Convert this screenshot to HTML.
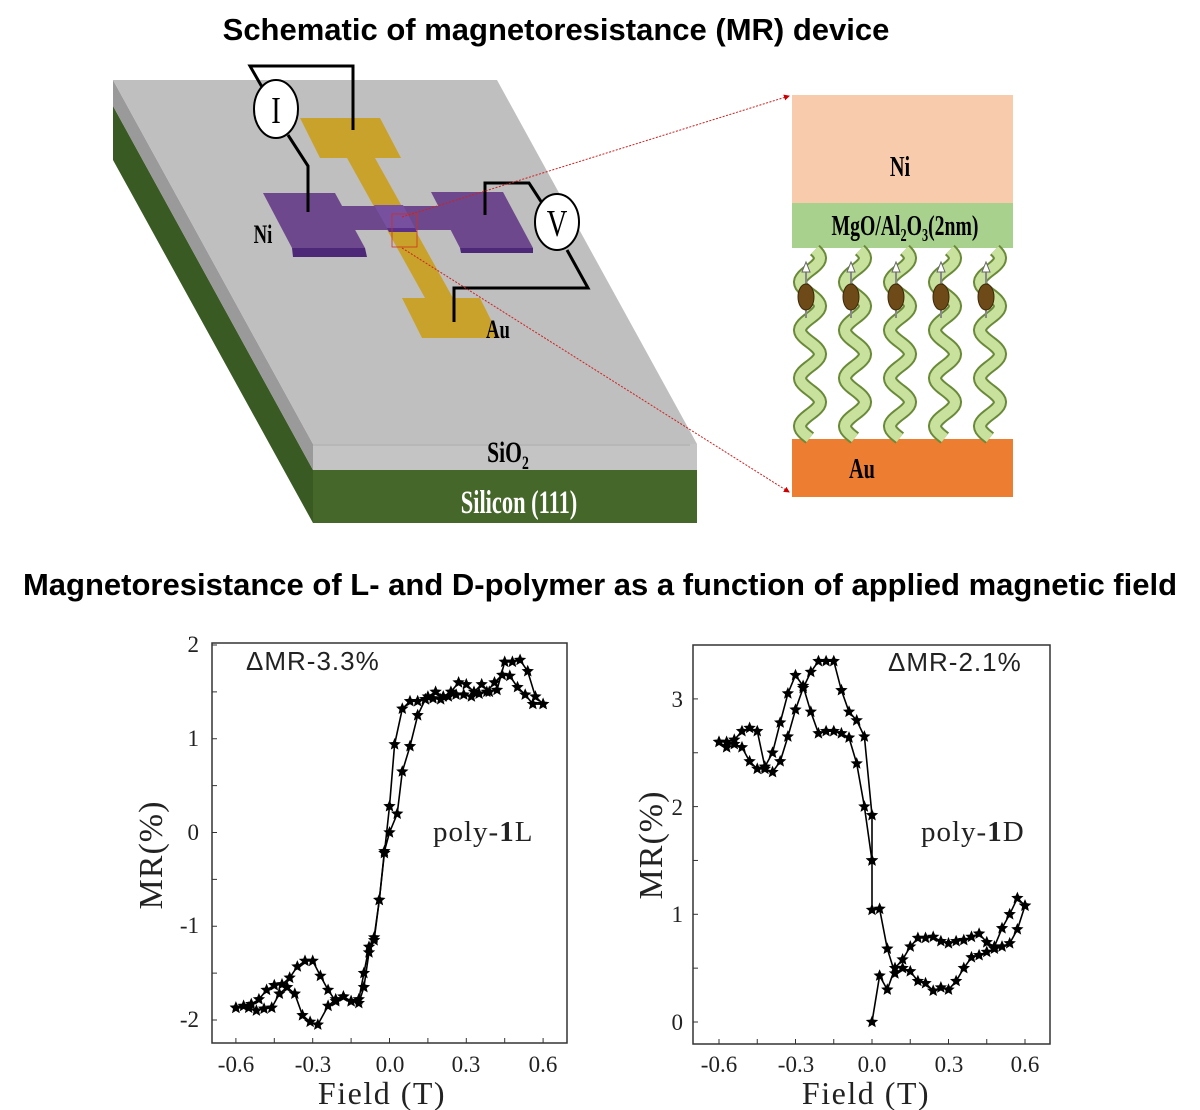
<!DOCTYPE html>
<html><head><meta charset="utf-8"><style>
html,body{margin:0;padding:0;background:#fff;}
body{width:1200px;height:1110px;position:relative;overflow:hidden;font-family:"Liberation Sans",sans-serif;}
svg{position:absolute;left:0;top:0;}
</style></head><body>
<svg id="s" width="1200" height="1110" viewBox="0 0 1200 1110" xmlns="http://www.w3.org/2000/svg">
<defs>
<marker id="ar" markerWidth="6" markerHeight="6" refX="5" refY="3" orient="auto"><path d="M0,0 L6,3 L0,6z" fill="#c00"/></marker>
</defs>
<text x="556" y="40" text-anchor="middle" font-family="Liberation Sans" font-weight="bold" font-size="31">Schematic of magnetoresistance (MR) device</text>
<text x="600" y="595" text-anchor="middle" font-family="Liberation Sans" font-weight="bold" font-size="31">Magnetoresistance of L- and D-polymer as a function of applied magnetic field</text>

<!-- slab -->
<polygon points="113,106 313,470 313,523 113,160" fill="#3a5a24"/>
<polygon points="113,80 313,444 313,470 113,106" fill="#9a9a9a"/>
<polygon points="313,444 697,444 697,470 313,470" fill="#c4c4c4"/>
<line x1="313" y1="445" x2="690" y2="445" stroke="#aaa" stroke-width="1"/>
<polygon points="313,470 697,470 697,523 313,523" fill="#46672a"/>
<polygon points="113,80 497,80 697,444 313,444" fill="#bfbfbf"/>

<!-- gold -->
<polygon points="300,118 380,118 401,158 320,158" fill="#c9a22c"/>
<polygon points="347,158 375,158 453,298 425,298" fill="#c9a22c"/>
<polygon points="402,298 480,298 500,338 422,338" fill="#c9a22c"/>
<!-- purple -->
<polygon points="292,248 365,248 367,257 293,257" fill="#4e2878"/>
<polygon points="263,193 335,193 365,248 292,248" fill="#6e488c"/>
<polygon points="330,206 440,206 452,230 342,230" fill="#6e488c"/>
<polygon points="460,248 533,248 533,253 461,253" fill="#4e2878"/>
<polygon points="431,192 503,192 533,248 460,248" fill="#6e488c"/>
<polygon points="374,205 403,205 415,228 387,228" fill="#7850a0"/>
<polygon points="387,228 415,228 417,232 389,232" fill="#5a3088"/>

<!-- wires -->
<g stroke="#000" stroke-width="3" fill="none">
<polyline points="262,87 250,66 353,66 353,130"/>
<polyline points="288,135 308,166 308,212"/>
<polyline points="485,215 485,183 529,183 542,203"/>
<polyline points="567,250 588,288 454,288 454,322"/>
</g>
<ellipse cx="276" cy="109" rx="22" ry="29" fill="#fff" stroke="#000" stroke-width="2"/>
<text x="276" y="123" text-anchor="middle" font-family="Liberation Serif" font-size="38" transform="translate(276 0) scale(0.75 1) translate(-276 0)">I</text>
<ellipse cx="557" cy="222" rx="22" ry="28" fill="#fff" stroke="#000" stroke-width="2"/>
<text x="557" y="236" text-anchor="middle" font-family="Liberation Serif" font-size="38" transform="translate(557 0) scale(0.75 1) translate(-557 0)">V</text>

<g font-family="Liberation Serif" font-weight="bold">
<text x="263" y="243" text-anchor="middle" font-size="26" transform="translate(263 0) scale(0.72 1) translate(-263 0)">Ni</text>
<text x="498" y="338" text-anchor="middle" font-size="26" transform="translate(498 0) scale(0.72 1) translate(-498 0)">Au</text>
<text x="508" y="462" text-anchor="middle" font-size="30" transform="translate(508 0) scale(0.72 1) translate(-508 0)">SiO<tspan font-size="19" dy="7">2</tspan></text>
<text x="519" y="513" text-anchor="middle" font-size="33" fill="#fff" transform="translate(519 0) scale(0.68 1) translate(-519 0)">Silicon (111)</text>
</g>

<!-- zoom lines -->
<rect x="392" y="214" width="25" height="33" fill="none" stroke="#d03020" stroke-width="0.8"/>
<line x1="402" y1="217" x2="789" y2="96" stroke="#d02020" stroke-width="1" stroke-dasharray="2,1.5" marker-end="url(#ar)"/>
<line x1="402" y1="248" x2="789" y2="492" stroke="#d02020" stroke-width="1" stroke-dasharray="2,1.5" marker-end="url(#ar)"/>

<!-- stack -->
<rect x="792" y="95" width="221" height="108" fill="#f8cbad"/>
<rect x="792" y="203" width="221" height="45" fill="#a9d18e"/>
<rect x="792" y="439" width="221" height="58" fill="#ed7d31"/>
<g font-family="Liberation Serif" font-weight="bold">
<text x="900" y="176" text-anchor="middle" font-size="29" transform="translate(900 0) scale(0.7 1) translate(-900 0)">Ni</text>
<text x="905" y="235" text-anchor="middle" font-size="29" transform="translate(905 0) scale(0.68 1) translate(-905 0)">MgO/Al<tspan font-size="18" dy="6">2</tspan><tspan dy="-6">O</tspan><tspan font-size="18" dy="6">3</tspan><tspan dy="-6">(2nm)</tspan></text>
<text x="862" y="478" text-anchor="middle" font-size="29" transform="translate(862 0) scale(0.7 1) translate(-862 0)">Au</text>
</g>
<g id="helix"></g>
<g id="plots"></g>

<!-- plot 1 frame -->
<rect x="212" y="643" width="355" height="400" fill="none" stroke="#333" stroke-width="1.5"/>
<g font-family="Liberation Serif" font-size="23" fill="#222">
<text x="199" y="652" text-anchor="end">2</text>
<text x="199" y="746" text-anchor="end">1</text>
<text x="199" y="840" text-anchor="end">0</text>
<text x="199" y="933" text-anchor="end">-1</text>
<text x="199" y="1027" text-anchor="end">-2</text>
<text x="236" y="1072" text-anchor="middle">-0.6</text>
<text x="313" y="1072" text-anchor="middle">-0.3</text>
<text x="390" y="1072" text-anchor="middle">0.0</text>
<text x="466" y="1072" text-anchor="middle">0.3</text>
<text x="543" y="1072" text-anchor="middle">0.6</text>
<text x="382" y="1104" text-anchor="middle" font-size="32" letter-spacing="1.5">Field (T)</text>
<text transform="translate(162 855) rotate(-90)" text-anchor="middle" font-size="34" letter-spacing="1">MR(%)</text>
<text x="246" y="670" font-family="Liberation Sans" font-size="26" letter-spacing="1">ΔMR-3.3%</text>
<text x="433" y="841" font-size="29" letter-spacing="1">poly-<tspan font-weight="bold">1</tspan>L</text>
</g>
<!-- plot 2 frame -->
<rect x="693" y="645" width="357" height="399" fill="none" stroke="#333" stroke-width="1.5"/>
<g font-family="Liberation Serif" font-size="23" fill="#222">
<text x="683" y="707" text-anchor="end">3</text>
<text x="683" y="815" text-anchor="end">2</text>
<text x="683" y="922" text-anchor="end">1</text>
<text x="683" y="1030" text-anchor="end">0</text>
<text x="719" y="1072" text-anchor="middle">-0.6</text>
<text x="796" y="1072" text-anchor="middle">-0.3</text>
<text x="872" y="1072" text-anchor="middle">0.0</text>
<text x="949" y="1072" text-anchor="middle">0.3</text>
<text x="1025" y="1072" text-anchor="middle">0.6</text>
<text x="866" y="1104" text-anchor="middle" font-size="32" letter-spacing="1.5">Field (T)</text>
<text transform="translate(662 845) rotate(-90)" text-anchor="middle" font-size="34" letter-spacing="1">MR(%)</text>
<text x="888" y="671" font-family="Liberation Sans" font-size="26" letter-spacing="1">ΔMR-2.1%</text>
<text x="921" y="841" font-size="29" letter-spacing="1">poly-<tspan font-weight="bold">1</tspan>D</text>
</g>
</svg>
<script>
var NS="http://www.w3.org/2000/svg";
function el(p,t,a){var e=document.createElementNS(NS,t);for(var k in a)e.setAttribute(k,a[k]);p.appendChild(e);return e;}
var h=document.getElementById('helix');
[810,855,900,945,990].forEach(function(cx){
  var d="";for(var y=250;y<=439;y+=2){var x=cx+10*Math.sin((y-250)/48*2*Math.PI+0.5);d+=(y==250?"M":"L")+x.toFixed(1)+","+y;}
  el(h,'path',{d:d,stroke:'#6a8a3a',"stroke-width":14,fill:'none'});
  el(h,'path',{d:d,stroke:'#c8e29e',"stroke-width":10,fill:'none'});
  el(h,'line',{x1:cx-4,y1:268,x2:cx-4,y2:318,stroke:'#888',"stroke-width":2});
  el(h,'path',{d:"M"+(cx-8)+",272 L"+(cx-4)+",262 L"+cx+",272z",fill:'#fff',stroke:'#666'});
  el(h,'ellipse',{cx:cx-4,cy:297,rx:8,ry:13,fill:'#6e4a18',stroke:'#3e2a08'});
});
var P=document.getElementById('plots');
function star(g,x,y,r){var d="";for(var i=0;i<10;i++){var a=-Math.PI/2+i*Math.PI/5,rr=i%2?r*0.45:r;d+=(i?"L":"M")+(x+rr*Math.cos(a)).toFixed(1)+","+(y+rr*Math.sin(a)).toFixed(1);}el(g,'path',{d:d+"z",fill:'#000'});}
function curve(pts,fx,fy){var d="";pts.forEach(function(p,i){d+=(i?"L":"M")+fx(p[0]).toFixed(1)+","+fy(p[1]).toFixed(1);});el(P,'path',{d:d,stroke:'#000',"stroke-width":1.6,fill:'none'});pts.forEach(function(p){star(P,fx(p[0]),fy(p[1]),6.5);});}
function ticks(x0,x1,y0,y1,fx,fy,xs,ys){xs.forEach(function(v){el(P,'line',{x1:fx(v),x2:fx(v),y1:y1,y2:y1-5,stroke:'#333'});});ys.forEach(function(v){el(P,'line',{x1:x0,x2:x0+5,y1:fy(v),y2:fy(v),stroke:'#333'});});}
var fx1=function(f){return 389.5+256*f},fy1=function(v){return 832.5-93.75*v};
var fx2=function(f){return 872+255*f},fy2=function(v){return 1022-107.7*v};
var xt=[-0.6,-0.45,-0.3,-0.15,0,0.15,0.3,0.45,0.6];
ticks(212,567,643,1043,fx1,fy1,xt,[2,1.5,1,0.5,0,-0.5,-1,-1.5,-2]);
ticks(693,1050,645,1044,fx2,fy2,xt,[3,2.5,2,1.5,1,0.5,0]);
curve([[-0.6,-1.87],[-0.57,-1.85],[-0.54,-1.83],[-0.51,-1.78],[-0.48,-1.68],[-0.45,-1.63],[-0.42,-1.62],[-0.39,-1.55],[-0.36,-1.43],[-0.33,-1.37],[-0.3,-1.37],[-0.27,-1.53],[-0.24,-1.68],[-0.21,-1.8],[-0.18,-1.75],[-0.15,-1.8],[-0.12,-1.78],[-0.1,-1.5],[-0.08,-1.22],[-0.06,-1.12],[-0.04,-0.72],[-0.02,-0.22],[0,0.28],[0.02,0.94],[0.05,1.32],[0.08,1.4],[0.11,1.4],[0.14,1.42],[0.17,1.43],[0.2,1.42],[0.23,1.45],[0.26,1.47],[0.29,1.47],[0.32,1.45],[0.35,1.48],[0.38,1.5],[0.41,1.6],[0.44,1.68],[0.47,1.67],[0.5,1.55],[0.53,1.47],[0.56,1.37],[0.6,1.37]],fx1,fy1);
curve([[-0.6,-1.87],[-0.55,-1.87],[-0.52,-1.9],[-0.49,-1.88],[-0.46,-1.87],[-0.43,-1.72],[-0.4,-1.65],[-0.37,-1.72],[-0.34,-1.95],[-0.31,-2.02],[-0.28,-2.05],[-0.24,-1.85],[-0.21,-1.78],[-0.18,-1.75],[-0.15,-1.8],[-0.12,-1.82],[-0.1,-1.65],[-0.08,-1.28],[-0.06,-1.15],[-0.04,-0.72],[-0.02,-0.2],[0,0],[0.03,0.2],[0.05,0.65],[0.08,0.92],[0.11,1.25],[0.14,1.42],[0.15,1.45],[0.18,1.5],[0.21,1.45],[0.24,1.5],[0.27,1.6],[0.3,1.58],[0.33,1.5],[0.36,1.58],[0.39,1.5],[0.42,1.52],[0.45,1.82],[0.48,1.82],[0.51,1.84],[0.54,1.72],[0.57,1.45],[0.6,1.37]],fx1,fy1);
curve([[-0.6,2.6],[-0.57,2.55],[-0.54,2.62],[-0.51,2.7],[-0.48,2.73],[-0.45,2.7],[-0.42,2.37],[-0.39,2.5],[-0.36,2.78],[-0.33,3.05],[-0.3,3.22],[-0.27,3.12],[-0.24,2.88],[-0.21,2.68],[-0.18,2.7],[-0.15,2.7],[-0.12,2.68],[-0.09,2.64],[-0.06,2.4],[-0.03,2.0],[0,1.5],[0,1.04],[0.03,1.05],[0.06,0.68],[0.09,0.45],[0.12,0.5],[0.15,0.47],[0.18,0.38],[0.21,0.36],[0.24,0.29],[0.27,0.32],[0.3,0.3],[0.33,0.38],[0.36,0.5],[0.39,0.6],[0.42,0.62],[0.45,0.65],[0.48,0.68],[0.51,0.7],[0.54,0.73],[0.57,0.86],[0.6,1.08]],fx2,fy2);
curve([[-0.6,2.6],[-0.57,2.6],[-0.54,2.58],[-0.51,2.55],[-0.48,2.42],[-0.45,2.35],[-0.42,2.35],[-0.39,2.32],[-0.36,2.42],[-0.33,2.65],[-0.3,2.9],[-0.27,3.1],[-0.24,3.25],[-0.21,3.35],[-0.18,3.35],[-0.15,3.35],[-0.12,3.08],[-0.09,2.88],[-0.06,2.8],[-0.03,2.65],[0,1.92],[0,1.5]],fx2,fy2);
curve([[0,0],[0.03,0.43],[0.06,0.3],[0.09,0.5],[0.12,0.58],[0.15,0.7],[0.18,0.78],[0.21,0.78],[0.24,0.79],[0.27,0.75],[0.3,0.73],[0.33,0.75],[0.36,0.76],[0.39,0.79],[0.42,0.82],[0.45,0.74],[0.48,0.7],[0.51,0.87],[0.54,1.0],[0.57,1.15],[0.6,1.08]],fx2,fy2);
</script>
</body></html>
